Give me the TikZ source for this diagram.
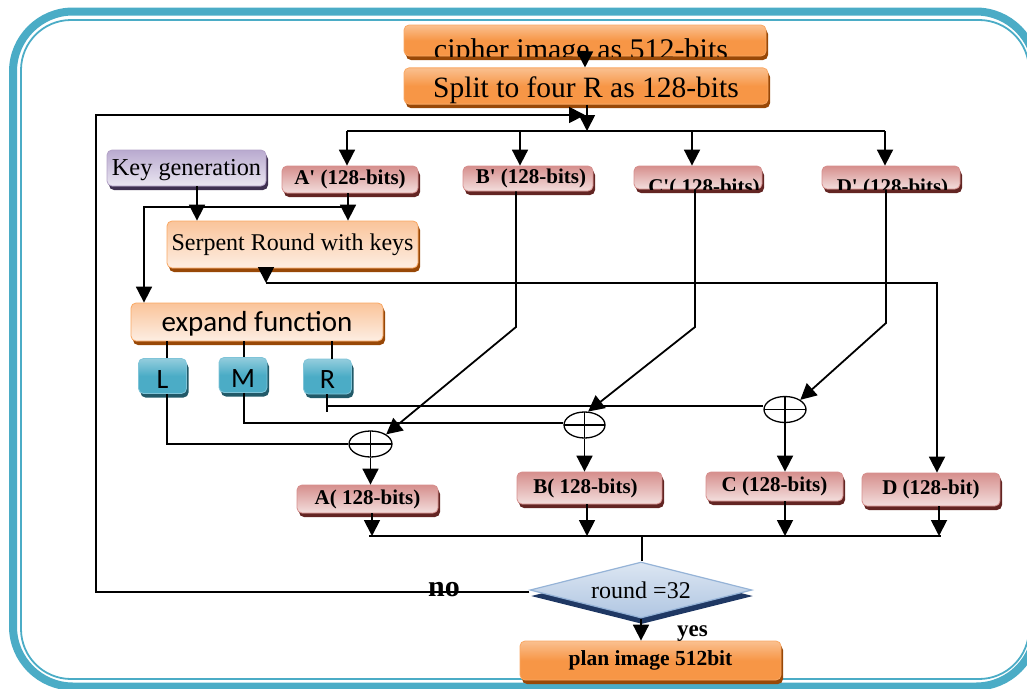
\documentclass[tikz,border=0pt]{standalone}
\usepackage{fontspec}
\setmainfont{Liberation Serif}
\newfontfamily\calfont{Carlito}
\usetikzlibrary{arrows.meta,shapes.geometric,shadows}

\definecolor{frameblue}{HTML}{4BACC6}
\definecolor{orMain}{HTML}{F79646}
\definecolor{orLight}{HTML}{FAC090}
\definecolor{orDark}{HTML}{984807}
\definecolor{orEdge}{HTML}{F9A864}
\definecolor{peachTop}{HTML}{FAC49A}
\definecolor{peachBot}{HTML}{FDEEE3}
\definecolor{pinkTop}{HTML}{D68F8D}
\definecolor{pinkBot}{HTML}{F3DEDD}
\definecolor{pinkDark}{HTML}{632523}
\definecolor{lavTop}{HTML}{B9AACF}
\definecolor{lavBot}{HTML}{EAE6F1}
\definecolor{lavEdge}{HTML}{B3A2C7}
\definecolor{lavDark}{HTML}{3F3151}
\definecolor{tealTop}{HTML}{93CDDD}
\definecolor{tealEdge}{HTML}{7FC4D8}
\definecolor{tealDark}{HTML}{215968}
\definecolor{diaTop}{HTML}{DCE6F2}
\definecolor{diaBot}{HTML}{B0C6E2}
\definecolor{diaEdge}{HTML}{95B3D7}
\definecolor{diaDark}{HTML}{1F3864}

\begin{document}
\begin{tikzpicture}[x=1pt,y=-1pt,
  box/.style={rectangle, rounded corners=5pt, inner sep=0pt, line width=0.8pt},
  shadowed/.style={drop shadow={shadow xshift=2pt,shadow yshift=-4pt,fill=#1,opacity=1}},
  orangebox/.style={box, draw=orEdge, top color=orLight, bottom color=orMain, middle color=orMain, shadowed=orDark},
  peachbox/.style={box, draw=orEdge, top color=peachTop, bottom color=peachBot, shadowed=orDark},
  pinkbox/.style={box, draw=pinkTop, top color=pinkTop, bottom color=pinkBot, shadowed=pinkDark,
                  font=\fontsize{21}{24}\selectfont\bfseries},
  lavbox/.style={box, draw=lavEdge, top color=lavTop, bottom color=lavBot, shadowed=lavDark},
  tealbox/.style={box, draw=tealEdge, top color=tealTop, bottom color=frameblue, middle color=frameblue,
                  shadowed=tealDark, minimum width=48, minimum height=35, text height=24pt,
                  font=\calfont\fontsize{28}{30}\selectfont},
  decision/.style={diamond, shape aspect=4, inner sep=0pt, draw=diaEdge, line width=1.2pt,
                   top color=diaTop, bottom color=diaBot,
                   drop shadow={shadow xshift=1pt,shadow yshift=-6pt,fill=diaDark,opacity=1}},
  xorgate/.style={ellipse, draw, line width=1.3pt, inner sep=0pt, minimum width=42, minimum height=26, fill=white,
                  path picture={\draw[line width=1.2pt]
                    (path picture bounding box.north) -- (path picture bounding box.south)
                    (path picture bounding box.west) -- (path picture bounding box.east);}},
  arr/.style={line width=1.8pt, -{Triangle[width=16pt,length=16pt]}},
  link/.style={line width=1.5pt},
  heavy/.style={line width=1.9pt},
  lbl/.style={font=\fontsize{21}{24}\selectfont\bfseries, inner sep=0pt}
]
\useasboundingbox (0,0) rectangle (1027,688);

% double teal frame round the whole flow
\begin{scope}
  \clip (0,0) rectangle (1027,688);
  \draw[frameblue, line width=8pt, rounded corners=60pt] (13,11.5) rectangle (1036,686.5);
  \draw[frameblue, line width=1.8pt, rounded corners=50pt] (21,20) rectangle (1029,679);
\end{scope}

% ---------- boxes ----------
\node[orangebox, minimum width=362, minimum height=31] (cipher) at (585,40.5) {};
\begin{scope}
  \clip (cipher.south west) rectangle (cipher.north east);
  \node[anchor=base, inner sep=0pt, font=\fontsize{30}{32}\selectfont] (ciphertext) at (581,59.5) {cipher image as 512-bits};
\end{scope}

\node[orangebox, minimum width=364, minimum height=32, text height=30pt, font=\fontsize{29.5}{32}\selectfont] (split) at (586,86) {Split to four R as 128-bits};

\node[lavbox, minimum width=159, minimum height=36, text height=20pt, font=\fontsize{24.3}{27}\selectfont] (key) at (186.5,168) {Key generation};

\node[pinkbox, minimum width=136, minimum height=27] (Ap) at (350,179.5) {A\textquotesingle{} (128-bits)};
\node[pinkbox, minimum width=130, minimum height=25] (Bp) at (528,178.5) {\hspace*{6pt}B\textquotesingle{} (128-bits)};
\node[pinkbox, minimum width=128, minimum height=23] (Cp) at (698,177.5) {};
\node[pinkbox, minimum width=138, minimum height=23] (Dp) at (891,177.5) {};
\begin{scope}
  \clip (Cp.south west) rectangle (Cp.north east);
  \node[lbl, anchor=base] (Cptext) at (704,193) {C\textquotesingle( 128-bits)};
\end{scope}
\begin{scope}
  \clip (Dp.south west) rectangle (Dp.north east);
  \node[lbl, anchor=base] (Dptext) at (892.5,193) {D\textquotesingle{} (128-bits)};
\end{scope}

\node[peachbox, minimum width=251, minimum height=47, font=\fontsize{24}{26}\selectfont] (serp) at (292.5,244.5) {Serpent Round with keys};
\node[peachbox, minimum width=252, minimum height=38, text height=23pt, font=\calfont\fontsize{29}{31}\selectfont] (expand) at (257,322) {expand function};

\node[tealbox] (L) at (162.5,376) {L};
\node[tealbox] (M) at (243,375) {M};
\node[tealbox] (R) at (327.5,376.5) {R};

\node[xorgate, minimum width=43] (x1) at (370.5,444) {};
\node[xorgate, minimum width=41] (x2) at (584.5,425) {};
\node[xorgate, minimum width=42] (x3) at (785,409.5) {};

\node[pinkbox, minimum width=141, minimum height=28] (A) at (367.5,499) {A( 128-bits)};
\node[pinkbox, minimum width=145, minimum height=32] (B) at (589.5,488) {B( 128-bits)\hspace*{8pt}};
\node[pinkbox, minimum width=137, minimum height=29] (C) at (774.5,486.5) {C (128-bits)};
\node[pinkbox, minimum width=138, minimum height=33] (D) at (931,489.5) {D (128-bit)};

\node[decision, minimum width=222, minimum height=56, font=\fontsize{24}{26}\selectfont] (dec) at (641,590) {round =32};

\node[orangebox, minimum width=261, minimum height=39, font=\fontsize{21.5}{24}\selectfont\bfseries] (plan) at (650.5,660.5) {plan image 512bit};

% ---------- connectors ----------
\draw[arr] (cipher.south) -- (cipher.south |- split.north);

\coordinate (busS) at (587,131);
\coordinate (busA) at (347,131);
\coordinate (busB) at (520,131);
\coordinate (busC) at (692,131);
\coordinate (busD) at (885,131);
\draw[heavy] (busA) -- (busD);
\draw[arr] (split.south -| busS) -- (busS);
\foreach \b/\n in {busA/Ap, busB/Bp, busC/Cp, busD/Dp}
  \draw[arr] (\b) -- (\b |- \n.north);

% loop back when the round count is not reached
\coordinate (loopBot) at (96,592);
\coordinate (loopTop) at (96,115);
\coordinate (loopTip) at (585,115);
\draw[arr] (dec.west |- loopBot) -- (loopBot) -- (loopTop) -- (loopTip);

% key schedule and first branch
\coordinate (kx) at (197,0);
\draw[arr] (key.south -| kx) -- (serp.north -| kx);
\coordinate (ax) at (348,0);
\draw[arr] (Ap.south -| ax) -- (serp.north -| ax);
\coordinate (jA) at (348,207);
\coordinate (jL) at (144,207);
\draw[arr] (jA) -- (jL) -- (expand.north -| jL);

% serpent output runs over to D
\coordinate (sOut) at (266,283);
\coordinate (sTurn) at (937,283);
\draw[arr] (serp.south -| sOut) -- (sOut);
\draw[arr] (sOut) -- (sTurn) -- (D.north -| sTurn);

% expand function outputs
\coordinate (lx) at (167,0);
\coordinate (mx) at (244,0);
\coordinate (rx) at (332,0);
\draw[link] (expand.south -| lx) -- (L.north -| lx);
\draw[link] (expand.south -| mx) -- (M.north -| mx);
\draw[link] (expand.south -| rx) -- (R.north -| rx);

\coordinate (lBend) at (167,444);
\draw[link] (L.south -| lBend) -- (lBend) -- (x1.west);
\coordinate (mBend) at (244,423);
\draw[link] (M.south -| mBend) -- (mBend) -- (x2.west |- mBend);
\coordinate (rBend) at (327,406);
\coordinate (rTick) at (327,412);
\draw[link] (R.south -| rBend) -- (rTick);
\draw[link] (rBend) -- (x3.west |- rBend);

% B', C', D' into the XOR gates
\coordinate (bCorner) at (516,327);
\coordinate (cCorner) at (695,327);
\coordinate (dCorner) at (886,323);
\draw[arr] (Bp.south -| bCorner) -- (bCorner) -- (x1.north east);
\draw[arr] (Cp.south -| cCorner) -- (cCorner) -- (x2.75);
\draw[arr] (Dp.south -| dCorner) -- (dCorner) -- (x3.north east);

% XOR results
\draw[arr] (x1.south) -- (x1.south |- A.north);
\draw[arr] (x2.south) -- (x2.south |- B.north);
\draw[arr] (x3.south) -- (x3.south |- C.north);

% merge of the four halves
\coordinate (botA) at (372,536);
\coordinate (botB) at (587,536);
\coordinate (botC) at (785,536);
\coordinate (botD) at (939,536);
\coordinate (botM) at (642,536);
\draw[arr] (A.south -| botA) -- (botA);
\draw[arr] (B.south -| botB) -- (botB);
\draw[arr] (C.south -| botC) -- (botC);
\draw[arr] (D.south -| botD) -- (botD);
\draw[heavy] (369,536) coordinate (botL) -- (941,536) coordinate (botR);
\draw[link] (botM) -- (botM |- dec.north);

\draw[arr] (dec.south) -- (dec.south |- plan.north);

\node[anchor=base west, inner sep=0pt, font=\fontsize{30}{32}\selectfont\bfseries] (no) at (428,596) {no};
\node[anchor=base west, inner sep=0pt, font=\fontsize{23}{25}\selectfont\bfseries] (yes) at (677,636) {yes};
\end{tikzpicture}
\end{document}
